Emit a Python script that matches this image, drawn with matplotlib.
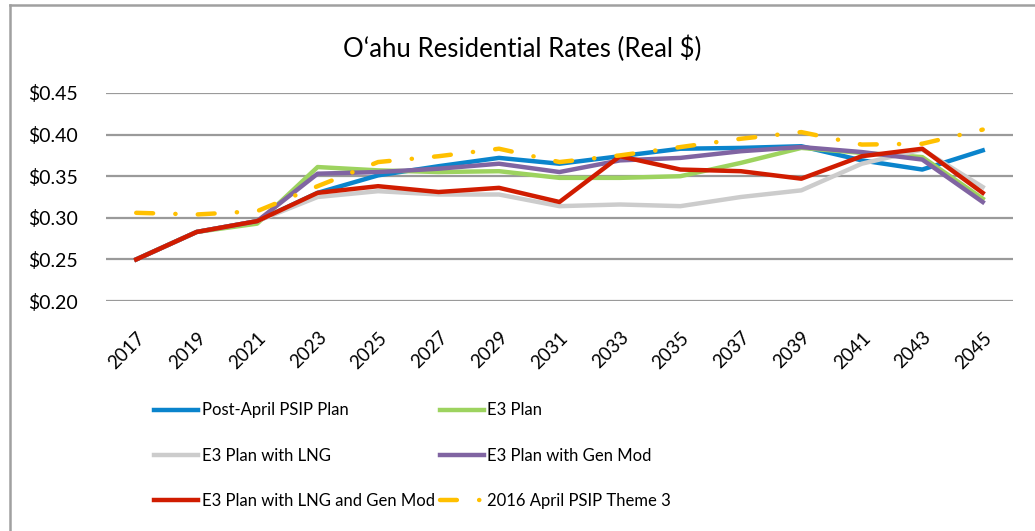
import matplotlib
matplotlib.use("Agg")
import matplotlib.pyplot as plt
from matplotlib.lines import Line2D

plt.rcParams['font.family'] = ['Lato', 'DejaVu Sans']

years = list(range(2017, 2046, 2))

post_april = [0.250, 0.283, 0.296, 0.330, 0.351, 0.362, 0.372, 0.365, 0.374, 0.383, 0.384, 0.386, 0.369, 0.358, 0.381]
e3_plan = [0.250, 0.283, 0.293, 0.361, 0.357, 0.355, 0.356, 0.348, 0.348, 0.350, 0.366, 0.384, 0.378, 0.373, 0.323]
e3_lng = [0.250, 0.283, 0.296, 0.325, 0.332, 0.328, 0.328, 0.314, 0.316, 0.314, 0.325, 0.333, 0.365, 0.382, 0.337]
e3_genmod = [0.250, 0.283, 0.296, 0.353, 0.355, 0.359, 0.365, 0.355, 0.369, 0.372, 0.380, 0.385, 0.379, 0.370, 0.319]
e3_lng_genmod = [0.250, 0.283, 0.296, 0.330, 0.338, 0.331, 0.336, 0.319, 0.374, 0.358, 0.356, 0.347, 0.374, 0.383, 0.330]
theme3 = [0.306, 0.304, 0.308, 0.338, 0.367, 0.374, 0.383, 0.367, 0.375, 0.385, 0.395, 0.403, 0.388, 0.389, 0.406]

yticks = [0.20, 0.25, 0.30, 0.35, 0.40, 0.45]

fig = plt.figure(figsize=(10.35, 5.31), dpi=100)
ax = fig.add_axes([0.1024, 0.4331, 0.8763, 0.3918])

lw = 3.2
ax.plot(years, post_april, color='#0a84cc', lw=lw, label='Post-April PSIP Plan')
ax.plot(years, e3_plan, color='#9dd35f', lw=lw, label='E3 Plan')
ax.plot(years, e3_lng, color='#cccccc', lw=lw, label='E3 Plan with LNG')
ax.plot(years, e3_genmod, color='#8064a2', lw=lw, label='E3 Plan with Gen Mod')
ax.plot(years, e3_lng_genmod, color='#d01c00', lw=lw, label='E3 Plan with LNG and Gen Mod')
ax.plot(years, theme3, color='#ffc000', lw=lw, linestyle=(0, (3.8, 5, 0.05, 5)),
        dash_capstyle='round', label='2016 April PSIP Theme 3')

ax.set_xlim(2016, 2046)
ax.set_ylim(0.20, 0.45)
ax.set_yticks(yticks)
ax.set_yticklabels(['$%.2f' % v for v in yticks], fontsize=14)
ax.set_xticks(years)
ax.set_xticklabels([str(y) for y in years], rotation=45, fontsize=13.5,
                   ha='right', rotation_mode='anchor')
ax.tick_params(length=0)
ax.tick_params(axis='y', pad=20)
ax.tick_params(axis='x', pad=20)
ax.grid(axis='y', color='#9a9a9a', lw=1.6)
ax.set_axisbelow(True)
for s in ax.spines.values():
    s.set_visible(False)

fig.text(0.505, 0.909, 'O\u2018ahu Residential Rates (Real $)', ha='center', va='center', fontsize=18.5)

handles, labels = ax.get_legend_handles_labels()
order = [0, 2, 4, 1, 3, 5]
leg = fig.legend([handles[i] for i in order], [labels[i] for i in order],
                 ncol=2, loc='upper left', bbox_to_anchor=(0.149, 0.242),
                 frameon=False, fontsize=12, handlelength=2.65, handletextpad=0.2,
                 columnspacing=0.3, labelspacing=1.75, borderpad=0, borderaxespad=0)

# outer frame (left and top edges only)
fig.lines.append(Line2D([10 / 1035, 10 / 1035], [0, 1 - 5 / 531], transform=fig.transFigure,
                        color='#a0a0a0', lw=1.8))
fig.lines.append(Line2D([10 / 1035, 1], [1 - 5 / 531, 1 - 5 / 531], transform=fig.transFigure,
                        color='#a0a0a0', lw=1.8))

fig.savefig('out.png', dpi=100)
